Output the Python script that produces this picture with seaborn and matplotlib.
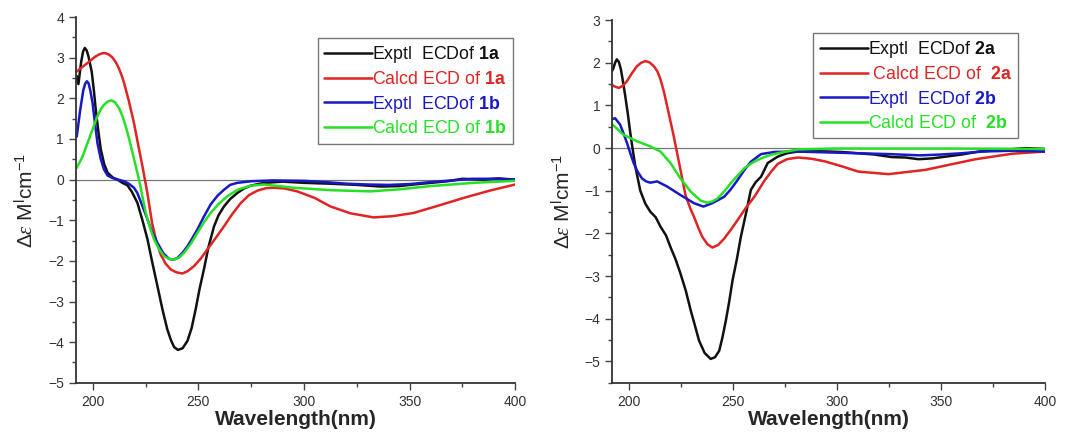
#!/usr/bin/env python3
import pandas as pd
import matplotlib
matplotlib.use("Agg")
import matplotlib.pyplot as plt
from matplotlib.ticker import MultipleLocator
import seaborn as sns

# ---- panel 1 (compounds 1a / 1b) ----
exp1a_x = [192.4, 193.2, 194.5, 195.4, 196.2, 197.1, 198, 199.5, 200.5, 201.4, 202.6, 203.8, 205.4, 207,
           209.5, 211.7, 214, 216.4, 218.5, 221.1, 223.5, 225.9, 228, 230.6, 233, 235.3, 237, 238.5,
           240.3, 242.5, 244.8, 246.8, 248.7, 250.5, 252.6, 254.8, 257.4, 259.5, 262.1, 265, 268.4,
           271.5, 274.7, 281, 290, 300, 312, 325, 336, 345, 352, 360, 368, 375, 385, 392, 400]
exp1a_y = [2.55, 2.35, 2.9, 3.15, 3.24, 3.18, 3.02, 2.65, 2.2, 1.72, 1.2, 0.74, 0.38, 0.17,
           0.05, 0.0, -0.08, -0.14, -0.3, -0.57, -1.0, -1.47, -2.0, -2.62, -3.2, -3.69, -3.95, -4.12,
           -4.19, -4.15, -3.97, -3.65, -3.19, -2.7, -2.21, -1.65, -1.15, -0.88, -0.66, -0.48, -0.33,
           -0.22, -0.15, -0.08, -0.05, -0.08, -0.1, -0.13, -0.17, -0.16, -0.12, -0.08, -0.04, 0.02, 0.0,
           0.03, 0.0]

calc1a_x = [192.4, 195, 197.5, 201, 203, 204.6, 206, 207.5, 209, 210.1, 211.3, 212.5, 213.7, 214.8,
            217, 219.5, 221.5, 223.5, 225.9, 228, 230, 232.2, 234.5, 236.9, 239.5, 242.4, 245, 247.9,
            251, 254.2, 258, 262.1, 266, 270, 274, 278, 282, 285.7, 291, 296.8, 305, 312.5, 322, 333,
            342, 351.9, 363, 375.6, 388, 400]
calc1a_y = [2.66, 2.77, 2.87, 3.02, 3.08, 3.11, 3.11, 3.08, 3.02, 2.95, 2.85, 2.72, 2.56, 2.38,
            1.95, 1.39, 0.85, 0.33, -0.35, -1.05, -1.5, -1.85, -2.07, -2.21, -2.28, -2.31, -2.25, -2.13,
            -1.95, -1.72, -1.45, -1.15, -0.85, -0.58, -0.38, -0.27, -0.21, -0.2, -0.22, -0.29, -0.45,
            -0.66, -0.83, -0.93, -0.9, -0.82, -0.65, -0.45, -0.27, -0.12]

exp1b_x = [192.4, 194, 195.5, 196.4, 197.2, 198, 198.8, 199.9, 201, 202.2, 203.7, 205.3, 207, 209.3,
           212, 214.8, 217, 219.5, 221.1, 223.5, 225.9, 228, 230.6, 233.5, 236.1, 238, 240, 242.5,
           244.8, 247, 249.5, 252.5, 255.8, 259, 262.1, 265, 268.4, 275, 285, 300, 310, 320, 330, 340,
           350, 360, 370, 380, 390, 400]
exp1b_y = [1.06, 1.7, 2.2, 2.36, 2.42, 2.37, 2.2, 1.88, 1.4, 0.9, 0.52, 0.25, 0.1, 0.04,
           0.0, -0.04, -0.1, -0.2, -0.33, -0.65, -0.98, -1.28, -1.56, -1.82, -1.95, -1.97, -1.93, -1.8,
           -1.64, -1.45, -1.23, -0.92, -0.61, -0.4, -0.25, -0.13, -0.08, -0.04, -0.02, -0.03, -0.06, -0.1,
           -0.12, -0.13, -0.11, -0.06, -0.02, 0.02, 0.02, 0.0]

calc1b_x = [192.4, 195, 197.5, 200, 202.2, 204, 205.3, 207, 208.8, 210.6, 212.4, 214, 215.6, 217.2,
            218.8, 220.4, 221.9, 223.5, 225.1, 227, 229, 231.3, 233.7, 236, 238.4, 240.8, 243.2, 246.5,
            249.5, 252.5, 255.8, 259.5, 263.7, 268.5, 274.7, 281, 295, 312.5, 331.4, 345, 359.8, 380, 400]
calc1b_y = [0.29, 0.55, 0.9, 1.25, 1.56, 1.75, 1.84, 1.92, 1.95, 1.9, 1.76, 1.57, 1.31, 1.0,
            0.66, 0.32, 0.0, -0.42, -0.82, -1.17, -1.47, -1.7, -1.88, -1.95, -1.97, -1.92, -1.8, -1.57,
            -1.31, -1.06, -0.82, -0.6, -0.41, -0.25, -0.15, -0.12, -0.2, -0.26, -0.29, -0.24, -0.16,
            -0.08, -0.03]

# ---- panel 2 (compounds 2a / 2b) ----
exp2a_x = [191.4, 192.5, 193.5, 194.3, 195.3, 196.3, 197.3, 198.4, 199.6, 200.8, 202, 203.2, 205.6,
           208, 210.4, 213, 215.3, 218, 220.1, 222.5, 224.9, 227.5, 229.8, 231.8, 233.8, 236.5, 239.4,
           241.5, 243.5, 245, 246.7, 248.3, 249.9, 252, 253.9, 256.5, 258.7, 261, 263.6, 266.8, 271.6,
           276, 281.3, 290, 302.2, 310, 318, 326.4, 333, 339.3, 346, 352.2, 360, 368.3, 380, 390.8, 400]
exp2a_y = [1.76, 1.85, 2.0, 2.08, 2.02, 1.84, 1.55, 1.21, 0.8, 0.35, -0.05, -0.43, -1.0,
           -1.3, -1.49, -1.62, -1.84, -2.05, -2.32, -2.6, -2.94, -3.35, -3.8, -4.15, -4.51, -4.8, -4.94,
           -4.9, -4.75, -4.45, -4.04, -3.6, -3.1, -2.6, -2.08, -1.5, -0.98, -0.8, -0.67, -0.35, -0.2,
           -0.12, -0.08, -0.07, -0.09, -0.12, -0.15, -0.21, -0.22, -0.26, -0.24, -0.2, -0.15, -0.08,
           -0.04, 0.0, -0.02]

calc2a_x = [191.4, 193.5, 195.2, 197.2, 199.2, 201.5, 204, 206, 208, 210, 212.1, 213.8, 215.3, 216.9,
            218.5, 221.7, 224.9, 227.3, 229.5, 231.4, 233.5, 235.4, 237.8, 240.2, 243, 245.9, 249,
            252.3, 256, 260.4, 265, 268.5, 271.6, 276, 281.3, 288, 294.2, 302, 310.3, 324.8, 342.5, 355,
            366.7, 384.4, 400]
calc2a_y = [1.49, 1.44, 1.41, 1.46, 1.57, 1.75, 1.92, 2.0, 2.04, 2.01, 1.92, 1.8, 1.61, 1.33,
            0.98, 0.27, -0.51, -1.1, -1.4, -1.61, -1.87, -2.08, -2.25, -2.33, -2.27, -2.12, -1.92,
            -1.69, -1.42, -1.14, -0.78, -0.55, -0.37, -0.26, -0.22, -0.25, -0.31, -0.42, -0.55, -0.61,
            -0.51, -0.38, -0.26, -0.13, -0.08]

exp2b_x = [191.4, 193.5, 195.9, 197.5, 199.2, 200.8, 202.4, 204.3, 206.4, 208.4, 210.4, 213.7, 218.5,
           224.9, 231.4, 235.9, 240.2, 245.9, 249, 252.3, 255.5, 258.7, 263.6, 270, 280, 295, 310, 325,
           340, 350, 360, 370, 385, 400]
exp2b_y = [0.67, 0.7, 0.55, 0.35, 0.12, -0.12, -0.35, -0.55, -0.71, -0.78, -0.81, -0.78, -0.9,
           -1.1, -1.29, -1.37, -1.29, -1.14, -0.97, -0.75, -0.52, -0.32, -0.14, -0.09, -0.08, -0.1, -0.12,
           -0.14, -0.17, -0.15, -0.12, -0.08, -0.06, -0.08]

calc2b_x = [191.4, 197.6, 204, 210.4, 215.3, 220.1, 224.9, 229.8, 234.6, 237.8, 240.2, 242.7, 246,
            249.1, 252.4, 255.6, 259.5, 263.6, 267.5, 271.6, 281.3, 300, 350, 400]
calc2b_y = [0.59, 0.31, 0.16, 0.04, -0.08, -0.35, -0.71, -1.02, -1.23, -1.28, -1.25, -1.18, -1.01,
            -0.82, -0.64, -0.47, -0.34, -0.24, -0.17, -0.12, -0.03, -0.01, -0.01, -0.02]

colors = ["#111111", "#e02424", "#1818c4", "#25e025"]
labels1 = [r"Exptl  ECDof $\mathbf{1a}$", r"Calcd ECD of $\mathbf{1a}$",
           r"Exptl  ECDof $\mathbf{1b}$", r"Calcd ECD of $\mathbf{1b}$"]
labels2 = [r"Exptl  ECDof $\mathbf{2a}$", r" Calcd ECD of  $\mathbf{2a}$",
           r"Exptl  ECDof $\mathbf{2b}$", r"Calcd ECD of  $\mathbf{2b}$"]


def draw_panel(ax, series, labels, ylim, yticks, legend_anchor):
    for (x, y), lab, col in zip(series, labels, colors):
        df = pd.DataFrame({"wl": x, "de": y})
        sns.lineplot(data=df, x="wl", y="de", ax=ax, color=col, linewidth=1.8, label=lab)
    ax.axhline(0, color="#777777", linewidth=0.9, zorder=0)
    ax.set_xlim(192, 400)
    ax.set_ylim(*ylim)
    ax.set_xticks([200, 250, 300, 350, 400])
    ax.set_yticks(yticks)
    ax.xaxis.set_minor_locator(MultipleLocator(25))
    ax.yaxis.set_minor_locator(MultipleLocator(0.5))
    ax.tick_params(which="major", direction="out", length=5, width=1.0, colors="#444444",
                   labelsize=10, labelcolor="#333333")
    ax.tick_params(which="minor", direction="out", length=3, width=1.0, colors="#444444")
    for s in ["top", "right"]:
        ax.spines[s].set_visible(False)
    for s in ["left", "bottom"]:
        ax.spines[s].set_color("#333333")
        ax.spines[s].set_linewidth(1.3)
    ax.set_xlabel("Wavelength(nm)", fontsize=15, fontweight="bold", labelpad=1)
    ax.set_ylabel(r"$\Delta\varepsilon$ M$^{\mathrm{l}}$cm$^{-1}$", fontsize=15, labelpad=8)
    leg = ax.legend(loc="upper right", bbox_to_anchor=legend_anchor, fontsize=12.8,
                    handlelength=2.7, handletextpad=0.0, labelspacing=0.32,
                    borderpad=0.35, fancybox=False, framealpha=1, edgecolor="#777777")
    leg.get_frame().set_linewidth(1.0)
    for txt, col in zip(leg.get_texts(), colors):
        txt.set_color(col)
    for line in leg.get_lines():
        line.set_linewidth(1.8)


def main():
    sns.set_style("ticks")
    plt.rcParams["font.family"] = ["Liberation Sans", "DejaVu Sans"]
    plt.rcParams["mathtext.fontset"] = "custom"
    plt.rcParams["mathtext.rm"] = "Liberation Sans"
    plt.rcParams["mathtext.it"] = "Liberation Serif:italic"
    plt.rcParams["mathtext.bf"] = "Liberation Sans:bold"

    fig = plt.figure(figsize=(10.69, 4.37), dpi=100)
    ax1 = fig.add_axes([0.071, 0.124, 0.411, 0.837])
    ax2 = fig.add_axes([0.5725, 0.124, 0.405, 0.830])

    draw_panel(ax1, [(exp1a_x, exp1a_y), (calc1a_x, calc1a_y), (exp1b_x, exp1b_y), (calc1b_x, calc1b_y)],
               labels1, (-5, 4), range(-5, 5), (1.015, 0.967))
    draw_panel(ax2, [(exp2a_x, exp2a_y), (calc2a_x, calc2a_y), (exp2b_x, exp2b_y), (calc2b_x, calc2b_y)],
               labels2, (-5.5, 3), range(-5, 4), (0.958, 0.989))

    fig.savefig("out.png", dpi=100)


if __name__ == "__main__":
    main()
